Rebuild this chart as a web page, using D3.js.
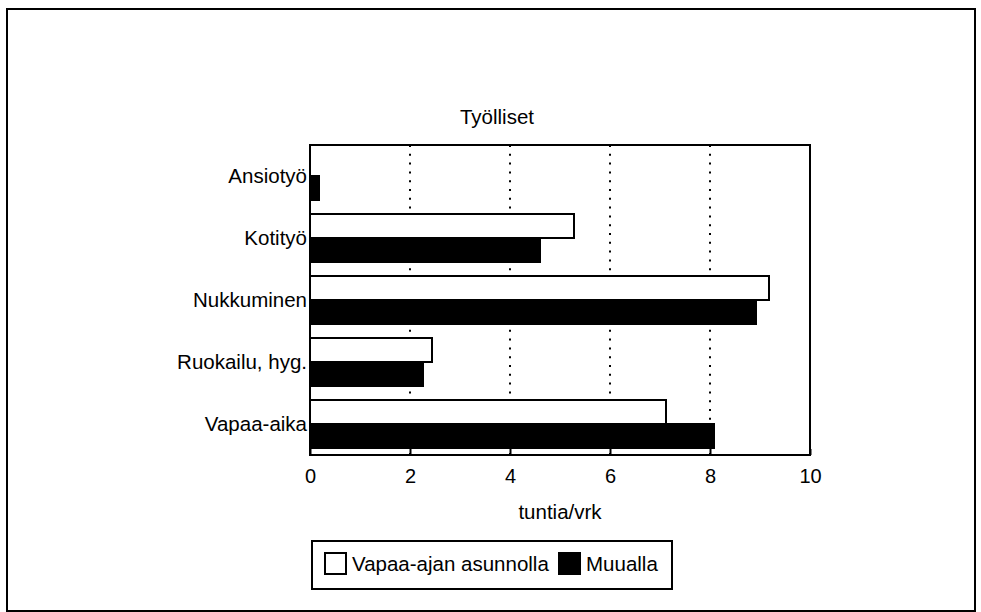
<!DOCTYPE html>
<html>
<head>
<meta charset="utf-8">
<script src="https://cdn.jsdelivr.net/npm/d3@7"></script>
<style>
  body { margin: 0; background: #fff; }
  svg { display: block; font-family: "Liberation Sans", Arial, Helvetica, sans-serif; }
</style>
</head>
<body>
<div id="chart"></div>
<script>
// data (hours per day)
let categories = ["Ansiotyö", "Kotityö", "Nukkuminen", "Ruokailu, hyg.", "Vapaa-aika"];
let series = ["Vapaa-ajan asunnolla", "Muualla"];
let vapaaAjanAsunnolla = [0, 5.28, 9.18, 2.44, 7.12];
let muualla = [0.18, 4.6, 8.92, 2.26, 8.08];
let xTicks = [0, 2, 4, 6, 8, 10];
let gridTicks = [2, 4, 6, 8];

let svgWidth = 981;
let svgHeight = 612;

let margin = { top: 145, right: 171, bottom: 157, left: 310 };
let chartWidth = svgWidth - margin.left - margin.right;
let chartHeight = svgHeight - margin.top - margin.bottom;

let fills = { "Vapaa-ajan asunnolla": "#fff", "Muualla": "#000" };

let rows = categories.map((c, i) => ({
  category: c,
  values: [
    { key: series[0], value: vapaaAjanAsunnolla[i] },
    { key: series[1], value: muualla[i] }
  ]
}));

let svg = d3.select("#chart")
  .append("svg")
  .attr("width", svgWidth)
  .attr("height", svgHeight);

// outer frame
svg.append("rect")
  .attr("x", 7)
  .attr("y", 9)
  .attr("width", 968)
  .attr("height", 602)
  .attr("fill", "none")
  .attr("stroke", "#000")
  .attr("stroke-width", 2);

// scales
let x = d3.scaleLinear()
  .domain([0, 10])
  .range([0, chartWidth]);

let y = d3.scaleBand()
  .domain(categories)
  .range([0, chartHeight]);

let ySeries = d3.scaleBand()
  .domain(series)
  .range([7, y.bandwidth() - 7]);

let g = svg.append("g")
  .attr("transform", "translate(" + margin.left + ", " + margin.top + ")");

// dotted grid
g.selectAll(".grid")
  .data(gridTicks)
  .enter()
  .append("line")
  .attr("class", "grid")
  .attr("x1", d => x(d))
  .attr("x2", d => x(d))
  .attr("y1", 0)
  .attr("y2", chartHeight)
  .attr("stroke", "#000")
  .attr("stroke-width", 2)
  .attr("stroke-dasharray", "2,6.8");

// bars
let groups = g.selectAll(".row")
  .data(rows)
  .enter()
  .append("g")
  .attr("class", "row")
  .attr("transform", d => "translate(0, " + y(d.category) + ")");

groups.selectAll("rect")
  .data(d => d.values)
  .enter()
  .append("rect")
  .attr("x", 0)
  .attr("y", d => ySeries(d.key))
  .attr("width", d => x(d.value))
  .attr("height", ySeries.bandwidth())
  .attr("fill", d => fills[d.key])
  .attr("stroke", d => d.value > 0 ? "#000" : "none")
  .attr("stroke-width", 2);

// plot border
g.append("rect")
  .attr("x", 0)
  .attr("y", 0)
  .attr("width", chartWidth)
  .attr("height", chartHeight)
  .attr("fill", "none")
  .attr("stroke", "#000")
  .attr("stroke-width", 2);

// x axis, ticks pointing inward
let xAxis = g.append("g")
  .attr("transform", "translate(0, " + chartHeight + ")")
  .call(d3.axisBottom(x).tickValues(xTicks).tickSize(-6).tickPadding(14).tickFormat(d3.format("d")));

xAxis.select(".domain").remove();
xAxis.selectAll(".tick line").attr("stroke-width", 2);
xAxis.selectAll("text")
  .attr("font-size", 20)
  .attr("fill", "#000");

// category labels
g.selectAll(".catLabel")
  .data(categories)
  .enter()
  .append("text")
  .attr("class", "catLabel")
  .attr("x", -3)
  .attr("y", d => y(d) + y.bandwidth() / 2 + 7)
  .attr("text-anchor", "end")
  .attr("font-size", 20.5)
  .text(d => d);

// title
svg.append("text")
  .attr("x", 497)
  .attr("y", 124)
  .attr("text-anchor", "middle")
  .attr("font-size", 20.5)
  .text("Työlliset");

// axis title
svg.append("text")
  .attr("x", margin.left + chartWidth / 2)
  .attr("y", 519)
  .attr("text-anchor", "middle")
  .attr("font-size", 20.5)
  .text("tuntia/vrk");

// legend
let legend = svg.append("g")
  .attr("transform", "translate(312, 541)");

legend.append("rect")
  .attr("width", 360)
  .attr("height", 48)
  .attr("fill", "#fff")
  .attr("stroke", "#000")
  .attr("stroke-width", 2);

let legendX = [13, 247];
let items = legend.selectAll(".item")
  .data(series)
  .enter()
  .append("g")
  .attr("class", "item")
  .attr("transform", (d, i) => "translate(" + legendX[i] + ", 12)");

items.append("rect")
  .attr("width", 21)
  .attr("height", 21)
  .attr("fill", d => fills[d])
  .attr("stroke", "#000")
  .attr("stroke-width", 2);

items.append("text")
  .attr("x", 27)
  .attr("y", 18)
  .attr("font-size", 20.5)
  .text(d => d);
</script>
</body>
</html>
